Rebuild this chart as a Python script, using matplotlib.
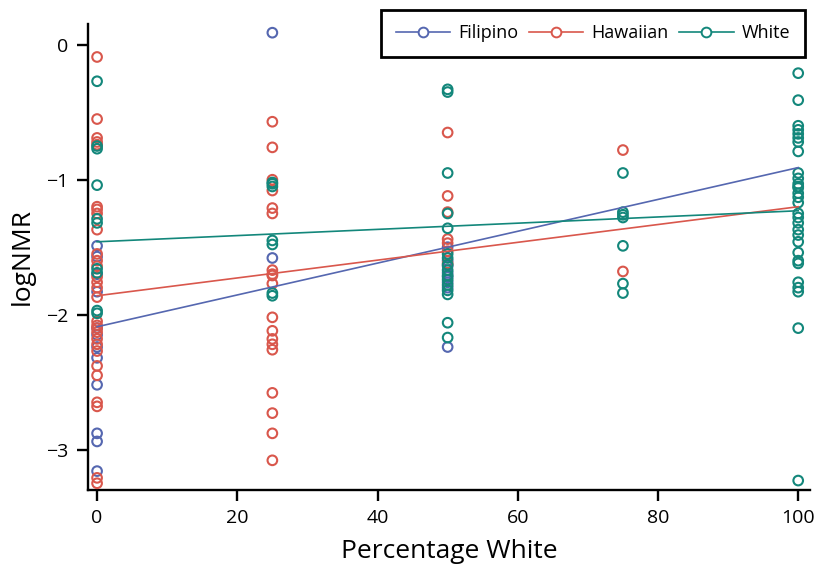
import matplotlib
matplotlib.use("Agg")
import matplotlib.pyplot as plt
from matplotlib.lines import Line2D

plt.rcParams['font.family'] = ['Open Sans', 'DejaVu Sans']

groups = ["Filipino", "Hawaiian", "White"]
colors = {"Filipino": "#5567b0", "Hawaiian": "#d9574c", "White": "#13877b"}

# x positions (percentage white) and logNMR values per group
filipino_x = [0]*12 + [25]*2 + [50]*8
filipino_y = [-1.49, -1.57, -1.70, -1.83, -2.10, -2.15, -2.24, -2.32, -2.52, -2.88, -2.94, -3.16,
              0.09, -1.58,
              -1.50, -1.60, -1.64, -1.69, -1.72, -1.76, -1.80, -2.24]

hawaiian_x = [0]*29 + [25]*19 + [50]*7 + [75]*2
hawaiian_y = [-0.09, -0.55, -0.69, -0.72, -0.74, -1.20, -1.22, -1.25, -1.37, -1.55, -1.60,
              -1.64, -1.72, -1.76, -1.80, -1.87, -2.05, -2.08, -2.10, -2.13, -2.18, -2.22,
              -2.27, -2.38, -2.45, -2.65, -2.68, -3.21, -3.25,
              -0.57, -0.76, -1.00, -1.08, -1.21, -1.25, -1.67, -1.70, -1.77, -2.02, -2.12,
              -2.18, -2.22, -2.26, -2.58, -2.73, -2.88, -3.08, -1.71,
              -0.65, -1.12, -1.24, -1.44, -1.47, -1.53, -1.62,
              -0.78, -1.68]

white_x = [0]*10 + [25]*7 + [50]*16 + [75]*7 + [100]*30
white_y = [-0.27, -0.75, -0.77, -1.04, -1.29, -1.32, -1.66, -1.69, -1.97, -1.99,
           -1.02, -1.05, -1.45, -1.48, -1.84, -1.86, -1.03,
           -0.33, -0.35, -0.95, -1.25, -1.36, -1.55, -1.58, -1.63, -1.67, -1.71, -1.74,
           -1.78, -1.82, -1.85, -2.06, -2.17,
           -0.95, -1.24, -1.26, -1.28, -1.49, -1.77, -1.84,
           -0.21, -0.41, -0.60, -0.63, -0.66, -0.69, -0.72, -0.79, -0.95, -0.99, -1.03,
           -1.06, -1.10, -1.17, -1.25, -1.32, -1.37, -1.41, -1.46, -1.54, -1.60, -1.62,
           -1.76, -1.80, -1.83, -2.10, -3.23, -1.05, -1.13, -1.28]

# fitted lines: value at 0% and at 100% white
fit_x = [0, 100]
fit_filipino = [-2.09, -0.91]
fit_hawaiian = [-1.86, -1.20]
fit_white = [-1.46, -1.23]

data = {
    "Filipino": (filipino_x, filipino_y, fit_filipino),
    "Hawaiian": (hawaiian_x, hawaiian_y, fit_hawaiian),
    "White": (white_x, white_y, fit_white),
}

fig = plt.figure(figsize=(8.16, 5.67), dpi=100)
ax = fig.add_axes([0.1078, 0.1358, 0.885, 0.822])

for g in groups:
    xs, ys, fit = data[g]
    ax.scatter(xs, ys, s=48, facecolors='none', edgecolors=colors[g], linewidths=1.5, zorder=3)
for g in groups:
    xs, ys, fit = data[g]
    ax.plot(fit_x, fit, color=colors[g], lw=1.2, zorder=4)

ax.set_xlim(-1.3, 101.7)
ax.set_ylim(-3.30, 0.155)
ax.set_xticks([0, 20, 40, 60, 80, 100])
ax.set_yticks([0, -1, -2, -3])
ax.set_yticklabels(["0", "\u22121", "\u22122", "\u22123"])
ax.spines['top'].set_visible(False)
ax.spines['right'].set_visible(False)
for s in ['left', 'bottom']:
    ax.spines[s].set_linewidth(1.7)
ax.tick_params(direction='out', length=8, width=1.7, labelsize=14, pad=6)
ax.set_xlabel("Percentage White", fontsize=19, labelpad=8)
ax.set_ylabel("logNMR", fontsize=19, labelpad=8)

handles = [Line2D([0], [0], color=colors[g], lw=1.2, marker='o', markersize=7,
                  markerfacecolor='white', markeredgecolor=colors[g], markeredgewidth=1.4)
           for g in groups]
leg = ax.legend(handles, groups, loc='upper right', ncol=3, frameon=True, fancybox=False,
                fontsize=13, handlelength=3.0, handletextpad=0.45, columnspacing=0.6,
                borderpad=0.8, bbox_to_anchor=(1.005, 1.05), edgecolor='black', framealpha=1)
leg.get_frame().set_linewidth(2.0)

fig.savefig("out.png", dpi=100)
